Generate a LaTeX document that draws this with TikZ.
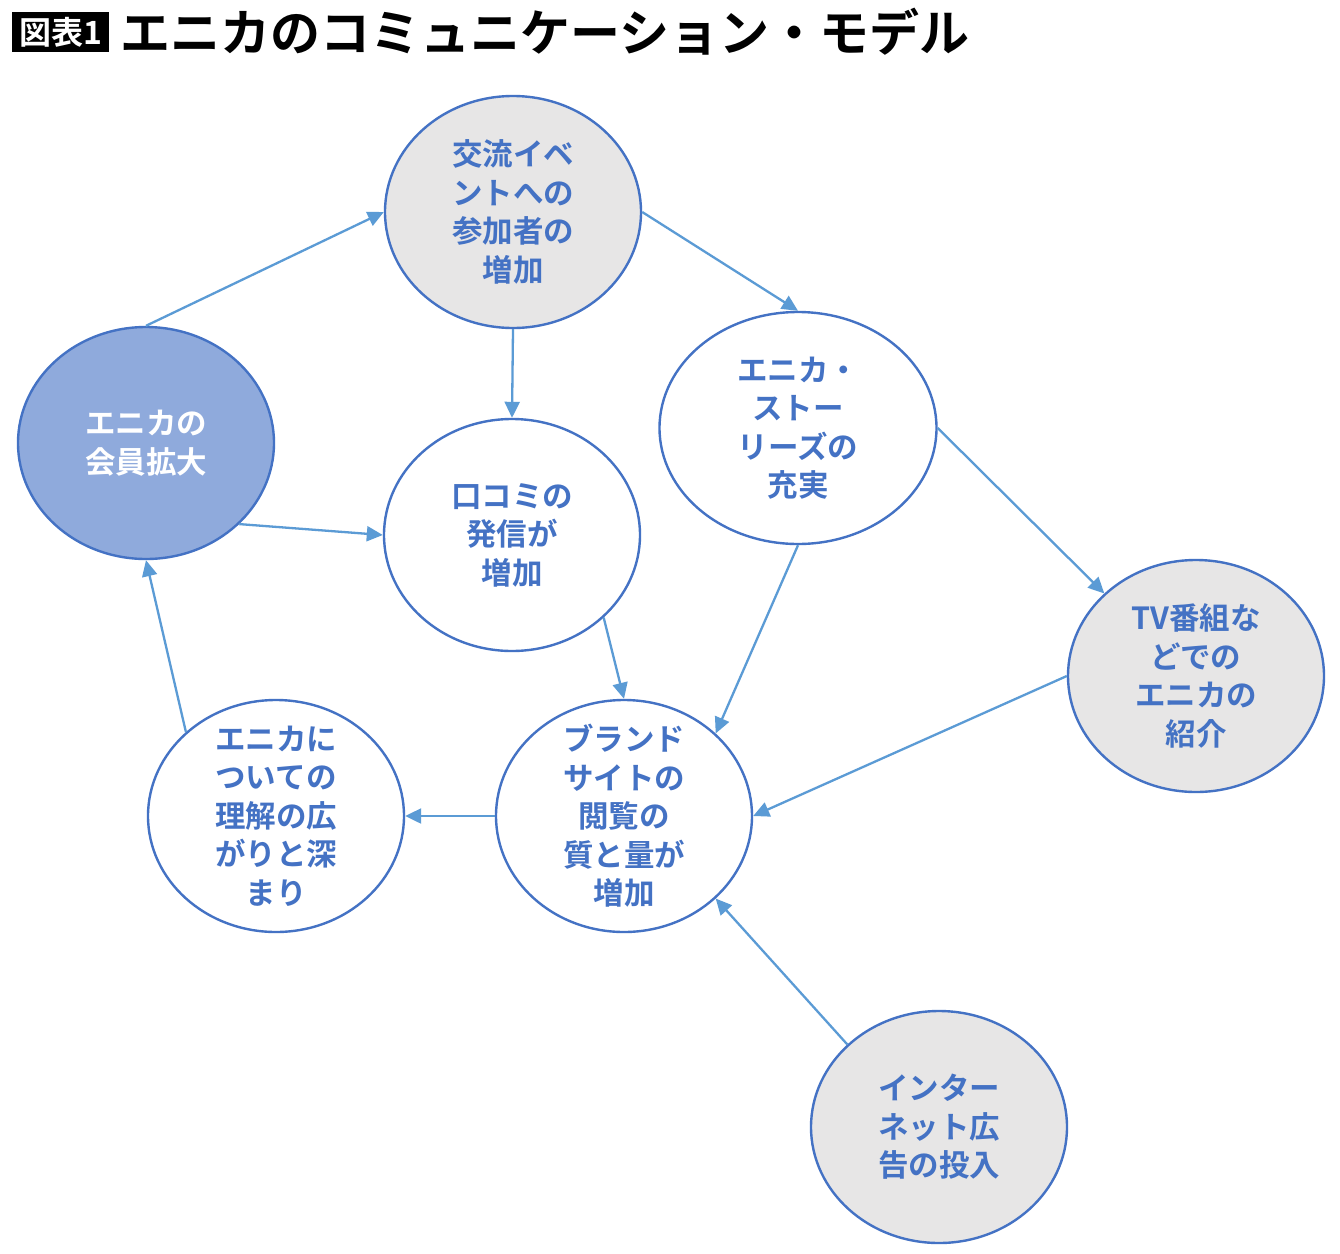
\documentclass[tikz,border=0pt]{standalone}
\usepackage{fontspec}
\usetikzlibrary{shapes.geometric,arrows.meta}
\newfontfamily\jpfont{Noto Sans CJK JP Bold}
\newfontfamily\jpbold{Noto Sans CJK JP Bold}
\definecolor{edgeblue}{HTML}{4472C4}
\definecolor{arrowblue}{HTML}{5B9BD5}
\definecolor{lgray}{HTML}{E7E6E6}
\definecolor{mblue}{HTML}{8FAADC}
\tikzset{
  bubble/.style={ellipse, draw=edgeblue, line width=2.4pt, minimum width=#1, minimum height=232pt, inner sep=0pt},
  bubble/.default=256pt,
  graybubble/.style={bubble, fill=lgray},
  label/.style={align=center, text=edgeblue, inner sep=0pt, font=\jpfont\fontsize{30.5}{38.5}\selectfont},
  flow/.style={draw=arrowblue, line width=2.3pt, -{Triangle[length=16pt,width=15pt]}}
}
\begin{document}
\begin{tikzpicture}[x=1pt,y=-1pt]
\useasboundingbox (0,0) rectangle (1340,1253);
\fill[white] (0,0) rectangle (1340,1253);
% title
\node[fill=black, text=white, font=\jpbold\fontsize{32}{34}\selectfont, inner xsep=7pt, inner ysep=0pt, anchor=west, minimum height=40pt] (tag) at (12,32) {図表1};
\node[font=\jpbold\fontsize{50}{54}\selectfont, anchor=west, inner sep=0pt] (title) at (120,32) {エニカのコミュニケーション・モデル};
% nodes
\node[graybubble] (event) at (513,212) {};
\node[bubble, fill=mblue] (member) at (146,443) {};
\node[bubble] (kuchi) at (512,535) {};
\node[bubble=277pt] (story) at (798,428) {};
\node[graybubble] (tv) at (1196,676) {};
\node[bubble] (brand) at (624,816) {};
\node[bubble] (under) at (276,816) {};
\node[graybubble] (ad) at (939,1127) {};
% labels
\node[label] (eventt) at (event) {交流イベ\\ントへの\\参加者の\\増加};
\node[label, text=white] (membert) at (member) {エニカの\\会員拡大};
\node[label] (kuchit) at (kuchi) {口コミの\\発信が\\増加};
\node[label] (storyt) at (story) {エニカ・\\ストー\\リーズの\\充実};
\node[label] (tvt) at (tv) {TV番組な\\どでの\\エニカの\\紹介};
\node[label] (brandt) at (brand) {ブランド\\サイトの\\閲覧の\\質と量が\\増加};
\node[label] (undert) at (under) {エニカに\\ついての\\理解の広\\がりと深\\まり};
\node[label] (adt) at (ad) {インター\\ネット広\\告の投入};
% connectors
\draw[flow] (member.north) -- (event.west);
\draw[flow] (event.east) -- (story.north);
\draw[flow] (event.south) -- (kuchi.north);
\draw[flow] (member.-41) -- (kuchi.west);
\draw[flow] (story.east) -- (tv.138);
\draw[flow] (story.south) -- (brand.42);
\draw[flow] (kuchi.-42) -- (brand.north);
\draw[flow] (tv.west) -- (brand.east);
\draw[flow] (ad.138) -- (brand.-42);
\draw[flow] (brand.west) -- (under.east);
\draw[flow] (under.137) -- (member.south);
\end{tikzpicture}
\end{document}
